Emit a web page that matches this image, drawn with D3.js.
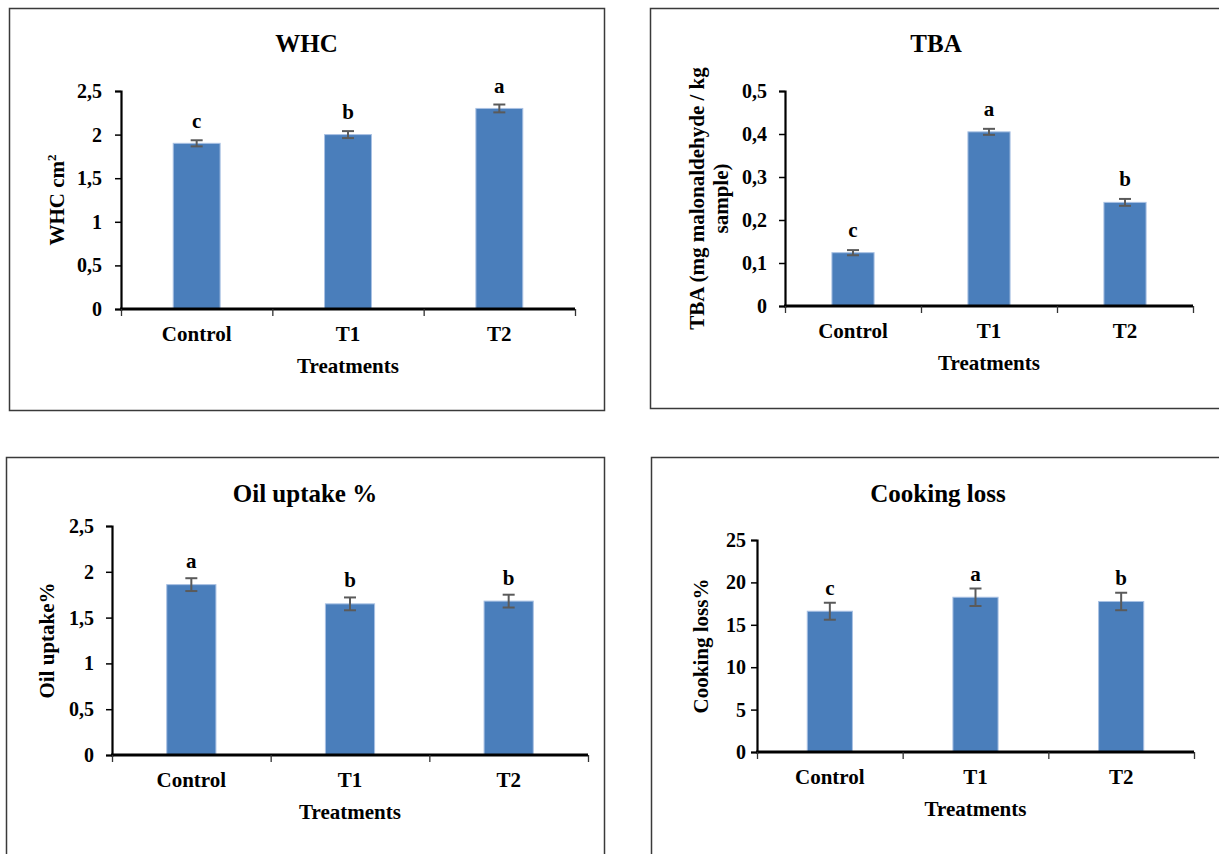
<!DOCTYPE html>
<html>
<head>
<meta charset="utf-8">
<script src="https://cdn.jsdelivr.net/npm/d3@7"></script>
<style>
  html, body { margin: 0; padding: 0; background: #fff; }
  svg { display: block; }
</style>
</head>
<body>
<svg id="chart" width="1219" height="854"></svg>
<script>
// ---------- DATA ----------
const categories = ["Control", "T1", "T2"];
const xAxisTitle = "Treatments";

const whcValues = [1.90, 2.00, 2.30];
const whcErrors = [0.035, 0.04, 0.045];
const whcLetters = ["c", "b", "a"];
const whcTicks = [0, 0.5, 1, 1.5, 2, 2.5];
const whcTickLabels = ["0", "0,5", "1", "1,5", "2", "2,5"];

const tbaValues = [0.124, 0.405, 0.241];
const tbaErrors = [0.006, 0.007, 0.008];
const tbaLetters = ["c", "a", "b"];
const tbaTicks = [0, 0.1, 0.2, 0.3, 0.4, 0.5];
const tbaTickLabels = ["0", "0,1", "0,2", "0,3", "0,4", "0,5"];

const oilValues = [1.86, 1.65, 1.68];
const oilErrors = [0.07, 0.07, 0.07];
const oilLetters = ["a", "b", "b"];
const oilTicks = [0, 0.5, 1, 1.5, 2, 2.5];
const oilTickLabels = ["0", "0,5", "1", "1,5", "2", "2,5"];

const cookValues = [16.6, 18.25, 17.75];
const cookErrors = [1.0, 1.03, 1.03];
const cookLetters = ["c", "a", "b"];
const cookTicks = [0, 5, 10, 15, 20, 25];
const cookTickLabels = ["0", "5", "10", "15", "20", "25"];

// ---------- LAYOUT ----------
const FONT = "'Liberation Serif', Tinos, 'Times New Roman', 'DejaVu Serif', serif";
const panels = [
  { title: "WHC", yLabel: ["WHC cm", "2"], sup: true,
    values: whcValues, errors: whcErrors, letters: whcLetters, ticks: whcTicks, tickLabels: whcTickLabels,
    box: {x: 9, y: 8, w: 595, h: 402}, plot: {x0: 121, x1: 575, yTop: 91, yBot: 309},
    titleX: 306.5, titleY: 52, yLabX: [57], tickPad: 13, letterGap: 12 },
  { title: "TBA", yLabel: ["TBA (mg malonaldehyde / kg", "sample)"], sup: false,
    values: tbaValues, errors: tbaErrors, letters: tbaLetters, ticks: tbaTicks, tickLabels: tbaTickLabels,
    box: {x: 650, y: 8, w: 580, h: 400}, plot: {x0: 785, x1: 1193, yTop: 91, yBot: 306},
    titleX: 936, titleY: 52, yLabX: [697, 721], tickPad: 12, letterGap: 13 },
  { title: "Oil uptake %", yLabel: ["Oil uptake%"], sup: false,
    values: oilValues, errors: oilErrors, letters: oilLetters, ticks: oilTicks, tickLabels: oilTickLabels,
    box: {x: 6, y: 457, w: 598, h: 420}, plot: {x0: 112, x1: 588, yTop: 526, yBot: 755},
    titleX: 305, titleY: 502, yLabX: [47], tickPad: 12, letterGap: 10 },
  { title: "Cooking loss", yLabel: ["Cooking loss%"], sup: false,
    values: cookValues, errors: cookErrors, letters: cookLetters, ticks: cookTicks, tickLabels: cookTickLabels,
    box: {x: 651, y: 457, w: 580, h: 420}, plot: {x0: 757, x1: 1194, yTop: 540, yBot: 752},
    titleX: 938, titleY: 502, yLabX: [701], tickPad: 5, letterGap: 8 }
];

const svg = d3.select("#chart");
const barFill = "#4a7ebb";
const barStroke = "#a9c1e3";
const errColor = "#5a5a5a";

function styleText(sel, size) {
  return sel.attr("font-family", FONT).attr("font-weight", "bold").attr("font-size", size).attr("fill", "#000");
}

panels.forEach(p => {
  const g = svg.append("g");

  // panel border
  g.append("rect")
    .attr("x", p.box.x + 0.5).attr("y", p.box.y + 0.5)
    .attr("width", p.box.w).attr("height", p.box.h)
    .attr("fill", "none").attr("stroke", "#3a3a3a").attr("stroke-width", 1.5);

  // scales
  const y = d3.scaleLinear().domain([p.ticks[0], p.ticks[p.ticks.length - 1]]).range([p.plot.yBot, p.plot.yTop]);
  const xBand = d3.scaleBand().domain(categories).range([p.plot.x0, p.plot.x1]).paddingInner(0).paddingOuter(0);
  const xEdge = d3.scaleLinear().domain([0, categories.length]).range([p.plot.x0, p.plot.x1]);
  const barW = xBand.bandwidth() * 0.31;

  // title
  styleText(g.append("text").attr("x", p.titleX).attr("y", p.titleY)
    .attr("text-anchor", "middle"), 25).text(p.title);

  // bars
  g.selectAll("rect.bar").data(p.values).enter().append("rect")
    .attr("class", "bar")
    .attr("x", (d, i) => xBand(categories[i]) + xBand.bandwidth() / 2 - barW / 2)
    .attr("y", d => y(d))
    .attr("width", barW)
    .attr("height", d => y(p.ticks[0]) - y(d))
    .attr("fill", barFill).attr("stroke", barStroke).attr("stroke-width", 1);

  // error bars
  const capW = 12;
  p.values.forEach((v, i) => {
    const cx = xBand(categories[i]) + xBand.bandwidth() / 2;
    const top = y(v + p.errors[i]), bot = y(v - p.errors[i]);
    const eg = g.append("g").attr("stroke", errColor).attr("stroke-width", 2);
    eg.append("line").attr("x1", cx).attr("x2", cx).attr("y1", top).attr("y2", bot);
    eg.append("line").attr("x1", cx - capW / 2).attr("x2", cx + capW / 2).attr("y1", top).attr("y2", top);
    eg.append("line").attr("x1", cx - capW / 2).attr("x2", cx + capW / 2).attr("y1", bot).attr("y2", bot);
    styleText(g.append("text").attr("x", cx).attr("y", top - p.letterGap)
      .attr("text-anchor", "middle"), 21).text(p.letters[i]);
  });

  // y axis
  const yAxis = d3.axisLeft(y).tickValues(p.ticks).tickSize(6).tickPadding(p.tickPad)
    .tickFormat((d, i) => p.tickLabels[i]);
  const ya = g.append("g").attr("transform", `translate(${p.plot.x0},0)`).call(yAxis);
  ya.attr("font-family", FONT).attr("font-size", 20);
  ya.select(".domain").attr("stroke", "#000").attr("stroke-width", 2.2);
  ya.selectAll(".tick line").attr("stroke", "#000").attr("stroke-width", 1.5);
  styleText(ya.selectAll(".tick text"), 20);

  // x axis: tick marks at category edges
  const xAxisEdges = d3.axisBottom(xEdge).tickValues(d3.range(categories.length + 1)).tickSize(7).tickFormat("");
  const xe = g.append("g").attr("transform", `translate(0,${p.plot.yBot})`).call(xAxisEdges);
  xe.select(".domain").attr("stroke", "#000").attr("stroke-width", 2.8).attr("d", `M${p.plot.x0 - 1},0H${p.plot.x1}`);
  xe.selectAll(".tick line").attr("stroke", "#333").attr("stroke-width", 1.3);

  // x axis: category labels
  const xAxisLabels = d3.axisBottom(xBand).tickSize(0).tickPadding(17);
  const xl = g.append("g").attr("transform", `translate(0,${p.plot.yBot})`).call(xAxisLabels);
  xl.attr("font-family", FONT).attr("font-size", 21);
  xl.select(".domain").remove();
  styleText(xl.selectAll(".tick text"), 21);

  // x axis title
  styleText(g.append("text").attr("x", (p.plot.x0 + p.plot.x1) / 2).attr("y", p.plot.yBot + 64)
    .attr("text-anchor", "middle"), 21).text(xAxisTitle);

  // y axis title
  const yc = (p.plot.yTop + p.plot.yBot) / 2;
  if (p.sup) {
    const t = styleText(g.append("text").attr("transform", `translate(${p.yLabX[0] + 7},${yc}) rotate(-90)`)
      .attr("text-anchor", "middle"), 21);
    t.append("tspan").text(p.yLabel[0]);
    t.append("tspan").attr("dy", -8).attr("font-size", 13).text(p.yLabel[1]);
  } else {
    p.yLabel.forEach((line, k) => {
      styleText(g.append("text").attr("transform", `translate(${p.yLabX[k] + 7},${yc}) rotate(-90)`)
        .attr("text-anchor", "middle"), 21).text(line);
    });
  }
});
</script>
</body>
</html>
